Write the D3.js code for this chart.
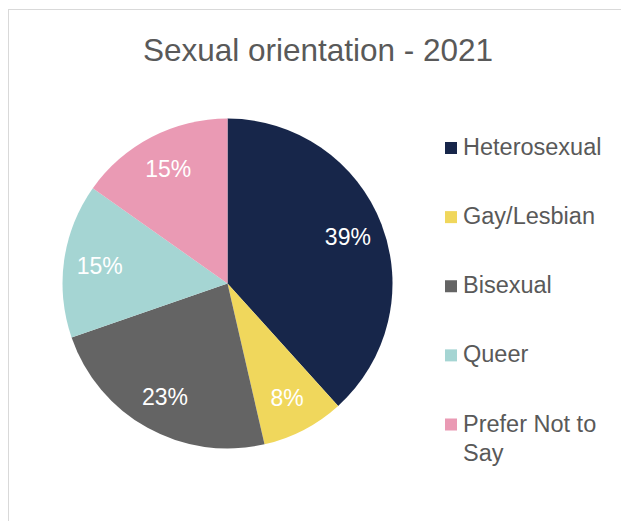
<!DOCTYPE html>
<html>
<head>
<meta charset="utf-8">
<script src="https://cdn.jsdelivr.net/npm/d3@7"></script>
<style>
  body { margin: 0; background: #fff; }
  text { font-family: "Liberation Sans", Arial, sans-serif; }
</style>
</head>
<body>
<svg width="621" height="521"></svg>
<script>
var categories = ['Heterosexual', 'Gay/Lesbian', 'Bisexual', 'Queer', 'Prefer Not to Say'];
var shares = [38.3, 8.1, 23.3, 15.1, 15.2];
var labels = ['39%', '8%', '23%', '15%', '15%'];
var colors = ['#17264a', '#f0d75c', '#646464', '#a5d5d3', '#ea9ab4'];

var data = categories.map(function(c, i) {
    return { name: c, value: shares[i], label: labels[i] };
});

var svg = d3.select('svg');

// chart area border
svg.append('rect')
    .attr('x', 8.5)
    .attr('y', 9.5)
    .attr('width', 700)
    .attr('height', 600)
    .style('fill', 'none')
    .style('stroke', '#d9d9d9');

svg.append('text')
    .attr('x', 318)
    .attr('y', 61)
    .attr('text-anchor', 'middle')
    .style('font-size', '31.5px')
    .style('fill', '#595959')
    .text('Sexual orientation - 2021');

var color = d3.scaleOrdinal()
    .domain(categories)
    .range(colors);

var pie = d3.pie()
    .sort(null)
    .value(function(d){ return d.value; });

var radius = 165;
var arc = d3.arc().innerRadius(0).outerRadius(radius);
var labelArc = d3.arc().innerRadius(129).outerRadius(129);

var g = svg.append('g')
    .attr('transform', 'translate(227.5,283.5)');

var slices = g.selectAll('g.slice')
    .data(pie(data))
    .enter()
    .append('g')
    .attr('class', 'slice');

slices.append('path')
    .attr('d', arc)
    .style('fill', function(d){ return color(d.data.name); });

slices.append('text')
    .attr('transform', function(d){ return 'translate(' + labelArc.centroid(d) + ')'; })
    .attr('text-anchor', 'middle')
    .attr('dy', '0.36em')
    .style('font-size', '23px')
    .style('fill', '#ffffff')
    .text(function(d){ return d.data.label; });

// legend
var legendY = d3.scalePoint()
    .domain(categories)
    .range([155, 431.5]);

var legend = svg.selectAll('g.legend')
    .data(categories)
    .enter()
    .append('g')
    .attr('class', 'legend')
    .attr('transform', function(d){ return 'translate(445,' + legendY(d) + ')'; });

legend.append('rect')
    .attr('x', 0)
    .attr('y', -13)
    .attr('width', 12)
    .attr('height', 12)
    .style('fill', function(d){ return color(d); });

legend.append('text')
    .attr('x', 18)
    .attr('y', 0)
    .style('font-size', '23.5px')
    .style('fill', '#595959')
    .each(function(d){
        var lines = d === 'Prefer Not to Say' ? ['Prefer Not to', 'Say'] : [d];
        var t = d3.select(this);
        lines.forEach(function(l, i){
            t.append('tspan')
                .attr('x', 18)
                .attr('dy', i === 0 ? 0 : 29)
                .text(l);
        });
    });
</script>
</body>
</html>
